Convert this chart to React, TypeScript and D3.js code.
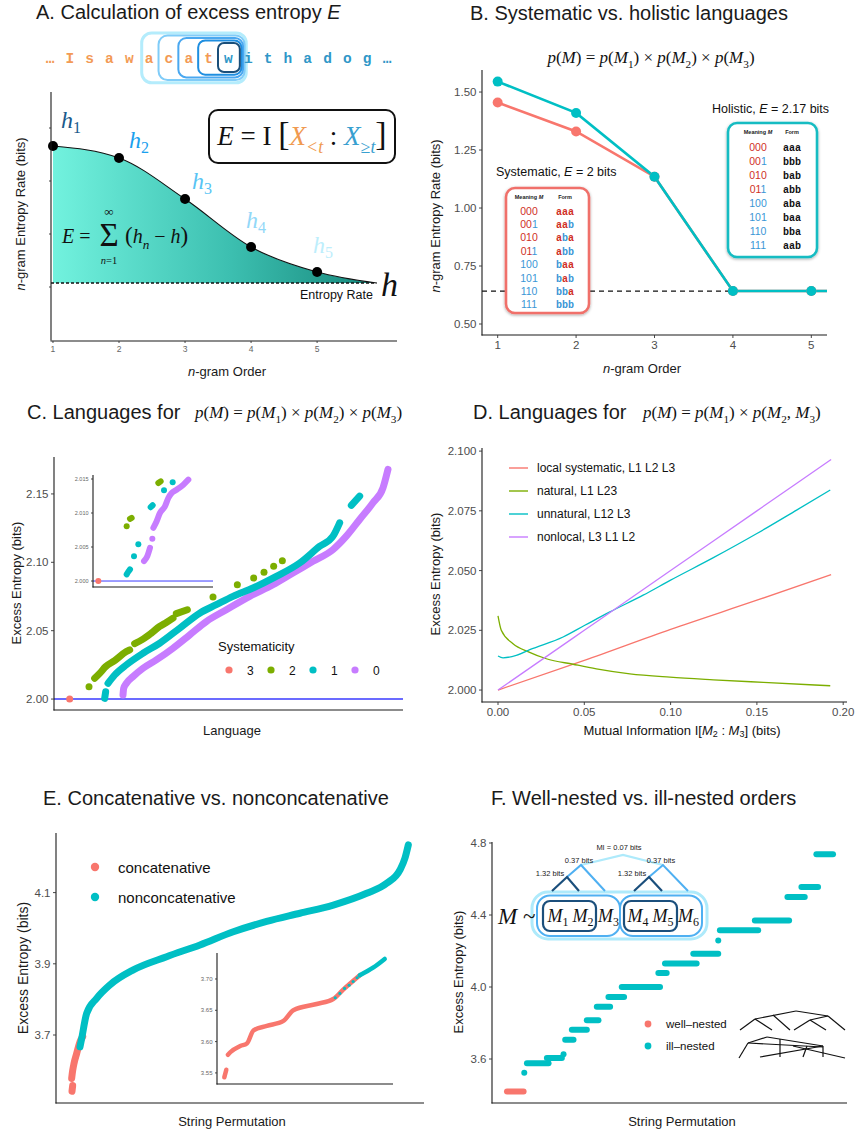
import React from 'react';
import * as d3 from 'd3';

const SANS = '"Liberation Sans", Arial, Helvetica, sans-serif';
const SERIF = '"Liberation Serif", "Times New Roman", serif';
const MONO = '"Liberation Mono", "Courier New", monospace';

const RED = '#f8766d', GREEN = '#7cae00', TEAL = '#00bfc4', PURPLE = '#c77cff';
const GRAY = '#4d4d4d';

// ---------- Panel A ----------
const A_SEQ = ['…', 'I', 's', 'a', 'w', 'a', 'c', 'a', 't', 'w', 'i', 't', 'h', 'a', 'd', 'o', 'g', '…'];
const A_PAST_LEN = 9;
const A_ORDERS = [1, 2, 3, 4, 5];
const A_H = [3.88, 3.64, 2.82, 1.86, 1.36];
const A_CURVE_ORDERS = [1, 2, 3, 4, 5, 5.9];
const A_CURVE_H = [3.88, 3.64, 2.82, 1.86, 1.36, 1.14];
const A_RATE = 1.14;
const A_XTICKS = [1, 2, 3, 4, 5];
const A_YTICKS = [1.06, 2.12, 3.18, 4.24];
const A_HCOLORS = ['#1a5a8c', '#1aa0ee', '#58c4f4', '#92d8f8', '#bdeefc'];
const A_BOXCOLORS = ['#1a4f7a', '#1e8ee0', '#4aa8f0', '#80ccf8', '#b4ecfc'];

// ---------- Panel B ----------
const B_ORDERS = [1, 2, 3, 4, 5, 6];
const B_HOLISTIC = [1.545, 1.41, 1.135, 0.642, 0.642, 0.642];
const B_SYSTEMATIC = [1.455, 1.33, 1.135, 0.642, 0.642, 0.642];
const B_RATE = 0.642;
const B_XTICKS = [1, 2, 3, 4, 5];
const B_YTICKS = [0.5, 0.75, 1.0, 1.25, 1.5];
const B_MEANINGS = ['000', '001', '010', '011', '100', '101', '110', '111'];
const B_SYS_FORMS = ['aaa', 'aab', 'aba', 'abb', 'baa', 'bab', 'bba', 'bbb'];
const B_HOL_FORMS = ['aaa', 'bbb', 'bab', 'abb', 'aba', 'baa', 'bba', 'aab'];

// ---------- Panel C ----------
type Pt = [number, number];
const C_YTICKS = [2.0, 2.05, 2.1, 2.15];
const C_RED: Pt[][] = [[[47, 2.0]]];
const C_GREEN: Pt[][] = [
  [[105, 2.009]],
  [[122, 2.0152], [137, 2.0188], [155, 2.0237], [182, 2.0281], [217, 2.0347], [227, 2.036]],
  [[242, 2.0405], [267, 2.0438], [292, 2.0482], [317, 2.0531], [337, 2.056], [357, 2.0592]],
  [[367, 2.0625], [400, 2.0653]],
  [[477, 2.0746]], [[550, 2.0836]], [[599, 2.0885]], [[630, 2.0927]], [[659, 2.0971]], [[685, 2.1012]],
];
const C_TEAL: Pt[][] = [
  [[152, 2.0005], [155, 2.0054]],
  [[162, 2.0115], [182, 2.0176], [217, 2.025], [267, 2.0335], [317, 2.0408], [377, 2.0518], [437, 2.0628],
   [487, 2.069], [537, 2.0751], [597, 2.0812], [667, 2.0897], [737, 2.0995], [797, 2.1117], [837, 2.1191], [857, 2.1289]],
  [[892, 2.1416], [917, 2.1484]],
];
const C_PURPLE: Pt[][] = [
  [[207, 2.0029], [209, 2.0078], [217, 2.0115], [237, 2.0164], [267, 2.0225], [307, 2.0286], [357, 2.0372],
   [407, 2.0469], [457, 2.0567], [517, 2.0653], [587, 2.0751], [657, 2.0836], [717, 2.0922], [777, 2.1007],
   [837, 2.1093], [877, 2.1191], [917, 2.1313], [957, 2.1435], [987, 2.1545], [1002, 2.168]],
];
const CI_YTICKS = [2.0, 2.005, 2.01, 2.015];
const CI_RED: Pt[][] = [[[16, 2.0]]];
const CI_TEAL: Pt[][] = [
  [[101, 2.00098], [106, 2.00137], [111, 2.00171]],
  [[123, 2.00366]], [[136, 2.00542]],
  [[173, 2.01085], [179, 2.01114]],
  [[213, 2.01334]], [[239, 2.01451]],
];
const CI_GREEN: Pt[][] = [
  [[101, 2.00806]],
  [[111, 2.00914], [116, 2.00928]],
  [[196, 2.01441], [203, 2.01466]],
];
const CI_PURPLE: Pt[][] = [
  [[153, 2.00293], [163, 2.00366], [171, 2.00489]],
  [[178, 2.0062]],
  [[181, 2.00782], [191, 2.0088], [201, 2.01001], [216, 2.011], [226, 2.01221], [236, 2.01295], [251, 2.01343],
   [271, 2.01417], [286, 2.0149]],
];
const C_LEGEND = [
  { label: '3', color: RED }, { label: '2', color: GREEN }, { label: '1', color: TEAL }, { label: '0', color: PURPLE },
];

// ---------- Panel D ----------
const D_XTICKS = [0, 0.05, 0.1, 0.15, 0.2];
const D_YTICKS = [2.0, 2.025, 2.05, 2.075, 2.1];
const D_MI_LIN = [0, 0.05, 0.1, 0.15, 0.193];
const D_LOCAL = [2.0, 2.0124, 2.0254, 2.0376, 2.0483];
const D_NONLOCAL = [2.0, 2.025, 2.05, 2.075, 2.0965];
const D_MI_NAT = [0, 0.0019, 0.0087, 0.018, 0.028, 0.0435, 0.057, 0.0764, 0.0996, 0.1248, 0.1538, 0.1925];
const D_NAT = [2.031, 2.025, 2.0194, 2.0159, 2.0131, 2.0108, 2.0089, 2.0068, 2.0054, 2.0043, 2.0032, 2.0018];
const D_MI_UNNAT = [0, 0.0029, 0.0106, 0.0184, 0.0377, 0.0503, 0.0648, 0.0841, 0.1, 0.1248, 0.15, 0.173, 0.1925];
const D_UNNAT = [2.01425, 2.0135, 2.0145, 2.0169, 2.0222, 2.0271, 2.0327, 2.0397, 2.046, 2.0554, 2.0655, 2.0753, 2.0837];
const D_SERIES = [
  { label: 'local systematic, L1 L2 L3', color: RED, xs: D_MI_LIN, ys: D_LOCAL },
  { label: 'natural, L1 L23', color: GREEN, xs: D_MI_NAT, ys: D_NAT },
  { label: 'unnatural, L12 L3', color: TEAL, xs: D_MI_UNNAT, ys: D_UNNAT },
  { label: 'nonlocal, L3 L1 L2', color: PURPLE, xs: D_MI_LIN, ys: D_NONLOCAL },
];

// ---------- Panel E ----------
const E_YTICKS = [3.7, 3.9, 4.1];
const E_RED: Pt[][] = [
  [[48, 3.542], [50, 3.558]],
  [[47, 3.578], [50, 3.6], [54, 3.62], [62, 3.648], [72, 3.681], [80, 3.695]],
];
const E_TEAL: Pt[][] = [
  [[72, 3.667], [77, 3.69], [92, 3.761], [122, 3.803], [162, 3.841], [232, 3.883], [332, 3.92], [432, 3.953],
   [532, 3.99], [632, 4.019], [732, 4.042], [832, 4.065], [932, 4.098], [992, 4.126], [1032, 4.164], [1047, 4.197], [1057, 4.234]],
];
const EI_YTICKS = [3.55, 3.6, 3.65, 3.7];
const EI_RED: Pt[][] = [
  [[22, 3.543], [28, 3.555]],
  [[33, 3.579], [40, 3.583], [70, 3.593], [90, 3.597], [110, 3.618], [150, 3.625], [200, 3.633], [230, 3.65],
   [300, 3.66], [350, 3.668], [380, 3.683], [430, 3.706]],
];
const EI_TEAL_MIX: Pt[][] = [[[356, 3.67]], [[370, 3.677]], [[384, 3.685]], [[398, 3.69]], [[410, 3.696]], [[422, 3.702]]];
const EI_TEAL: Pt[][] = [[[430, 3.706], [470, 3.718], [505, 3.732]]];

// ---------- Panel F ----------
const F_YTICKS = [3.6, 4.0, 4.4, 4.8];
const F_RED: [number, number, number][] = [[45, 95, 3.42]];
const F_TEAL: [number, number, number][] = [
  [97, 97, 3.524], [105, 170, 3.576], [165, 210, 3.605], [215, 215, 3.626], [220, 245, 3.707], [240, 285, 3.763],
  [285, 320, 3.815], [315, 355, 3.891], [350, 397, 3.944], [390, 505, 4.0], [500, 525, 4.078], [520, 615, 4.13],
  [605, 680, 4.185], [680, 680, 4.259], [685, 800, 4.315], [790, 893, 4.37], [888, 940, 4.5], [930, 980, 4.556],
  [975, 1025, 4.737],
];
const F_TREE_WELL = [
  [740, 1030, 755, 1019], [755, 1019, 772, 1030], [755, 1019, 796, 1011], [796, 1011, 828, 1016],
  [828, 1016, 845, 1030], [773, 1015, 790, 1030], [794, 1030, 810, 1020], [810, 1020, 826, 1030], [810, 1020, 828, 1016],
];
const F_TREE_ILL = [
  [739, 1058, 748, 1043], [748, 1043, 767, 1037], [767, 1037, 823, 1046], [748, 1043, 823, 1047],
  [760, 1057, 823, 1046], [780, 1039, 780, 1057], [807, 1046, 803, 1057], [823, 1046, 823, 1057], [793, 1046, 845, 1058],
];

// ---------- helpers ----------
type Tok = { t: string; i?: boolean; sub?: string; subI?: boolean; c?: string; size?: number };

function MathText({ x, y, size, toks, anchor = 'start', fill = '#111' }: any) {
  const out: any[] = [];
  let pending = 0;
  toks.forEach((k: Tok, idx: number) => {
    out.push(
      <tspan key={idx + 'a'} dy={pending || undefined} fontStyle={k.i ? 'italic' : 'normal'} fill={k.c || fill}
        fontSize={k.size || size}>{k.t}</tspan>
    );
    pending = 0;
    if (k.sub) {
      out.push(
        <tspan key={idx + 'b'} dy={size * 0.28} fontSize={size * 0.66} fontStyle={k.subI ? 'italic' : 'normal'} fill={k.c || fill}>{k.sub}</tspan>
      );
      pending = -size * 0.28;
    }
  });
  return (
    <text x={x} y={y} fontFamily={SERIF} fontSize={size} textAnchor={anchor} style={{ whiteSpace: 'pre' }} fill={fill}>
      {out}
    </text>
  );
}

function Bands({ data, xs, ys, color, w, smooth = true }: any) {
  const line = d3.line<Pt>().x((d) => xs(d[0])).y((d) => ys(d[1]));
  if (smooth) line.curve(d3.curveMonotoneX);
  return (
    <g>
      {data.map((seg: Pt[], i: number) =>
        seg.length === 1 ? (
          <circle key={i} cx={xs(seg[0][0])} cy={ys(seg[0][1])} r={w / 2} fill={color} />
        ) : (
          <path key={i} d={line(seg) || ''} stroke={color} strokeWidth={w} fill="none" strokeLinecap="round" strokeLinejoin="round" />
        )
      )}
    </g>
  );
}

function LeftAxis({ x, y, ticks, fmt, size = 11.5, tickLen = 3, showLabels = true, color = GRAY }: any) {
  const [r0, r1] = y.range();
  return (
    <g>
      <line x1={x} x2={x} y1={r0 + 0.5} y2={r1} stroke="#1a1a1a" strokeWidth={1.1} />
      {ticks.map((t: number, i: number) => (
        <g key={i}>
          <line x1={x - tickLen} x2={x} y1={y(t)} y2={y(t)} stroke="#333" strokeWidth={0.9} />
          {showLabels && (
            <text x={x - tickLen - 2.5} y={y(t)} dy="0.35em" textAnchor="end" fontFamily={SANS} fontSize={size} fill={color}>
              {fmt(t)}
            </text>
          )}
        </g>
      ))}
    </g>
  );
}

function BottomAxis({ y, x, ticks, fmt, size = 11.5, tickLen = 3, showLabels = true, color = GRAY, ticksOn = true }: any) {
  const [r0, r1] = x.range();
  return (
    <g>
      <line x1={r0 - 0.5} x2={r1} y1={y} y2={y} stroke="#1a1a1a" strokeWidth={1.1} />
      {ticksOn && ticks.map((t: number, i: number) => (
        <g key={i}>
          <line x1={x(t)} x2={x(t)} y1={y} y2={y + tickLen} stroke="#333" strokeWidth={0.9} />
          {showLabels && (
            <text x={x(t)} y={y + tickLen + 2} dy="0.8em" textAnchor="middle" fontFamily={SANS} fontSize={size} fill={color}>
              {fmt(t)}
            </text>
          )}
        </g>
      ))}
    </g>
  );
}

function Title({ x, y, children }: any) {
  return (
    <text x={x} y={y} fontFamily={SANS} fontSize={20} fill="#1a1a1a">{children}</text>
  );
}

function YLabel({ x, y, children, size = 13 }: any) {
  return (
    <text transform={`translate(${x},${y}) rotate(-90)`} textAnchor="middle" fontFamily={SANS} fontSize={size} fill="#1a1a1a">
      {children}
    </text>
  );
}

function XLabel({ x, y, children, size = 13 }: any) {
  return (
    <text x={x} y={y} textAnchor="middle" fontFamily={SANS} fontSize={size} fill="#1a1a1a">{children}</text>
  );
}

const PM_TOKS = (last: Tok[]): Tok[] => [
  { t: 'p', i: true }, { t: '(' }, { t: 'M', i: true }, { t: ') = ' }, { t: 'p', i: true }, { t: '(' },
  { t: 'M', i: true, sub: '1' }, { t: ') × ' }, ...last,
];

// ---------- Panels ----------
function PanelA() {
  const x = d3.scaleLinear().domain([0.97, 6.21]).range([51, 397]);
  const y = d3.scaleLinear().domain([0, 4.96]).range([340, 92]);
  const pts: Pt[] = A_CURVE_ORDERS.map((o, i) => [o, A_CURVE_H[i]]);
  const area = d3.area<Pt>().x((d) => x(d[0])).y0(y(A_RATE)).y1((d) => y(d[1])).curve(d3.curveMonotoneX);
  const line = d3.line<Pt>().x((d) => x(d[0])).y((d) => y(d[1])).curve(d3.curveMonotoneX);
  const sx = d3.scalePoint<number>().domain(A_SEQ.map((_, i) => i)).range([50, 387]);
  const cw = sx.step();
  const wi = A_PAST_LEN;
  return (
    <g>
      <defs>
        <linearGradient id="aGrad" x1="0" x2="1" y1="0" y2="0">
          <stop offset="0" stopColor="#72f2de" />
          <stop offset="0.55" stopColor="#3cbfb0" />
          <stop offset="1" stopColor="#16877b" />
        </linearGradient>
      </defs>
      <Title x={36} y={19}>A. Calculation of excess entropy <tspan fontStyle="italic">E</tspan></Title>
      {A_BOXCOLORS.map((c, k) => {
        const left = sx(wi - k)! - cw / 2 - 0.5 + (k === 4 ? 3 : 0);
        const right = sx(wi)! + cw / 2 + 1.5 + k * 1.6;
        const top = 43 - k * 2.5;
        const bot = 72 + k * 2.7;
        return (
          <rect key={k} x={left} y={top} width={right - left} height={bot - top} rx={6 + k} ry={6 + k}
            fill="none" stroke={c} strokeWidth={k === 4 ? 3 : 2} />
        );
      }).reverse()}
      {A_SEQ.map((ch, i) => (
        <text key={i} x={sx(i)} y={63} textAnchor="middle" fontFamily={MONO} fontWeight="bold" fontSize={14.5}
          fill={i < A_PAST_LEN ? '#f39a55' : '#2f97c8'}>{ch}</text>
      ))}
      <path d={area(pts) || ''} fill="url(#aGrad)" />
      <path d={line(pts) || ''} fill="none" stroke="#111" strokeWidth={1.1} />
      <line x1={51} x2={x(5.9)} y1={y(A_RATE)} y2={y(A_RATE)} stroke="#111" strokeWidth={1.3} strokeDasharray="3,2" />
      {A_ORDERS.map((o, i) => (
        <circle key={i} cx={x(o)} cy={y(A_H[i])} r={5} fill="#000" />
      ))}
      <LeftAxis x={51} y={y} ticks={A_YTICKS} fmt={() => ''} showLabels={false} tickLen={2} />
      <BottomAxis y={341} x={x} ticks={A_XTICKS} fmt={(d: number) => String(d)} size={8.5} tickLen={2} color="#666" />
      {A_ORDERS.map((o, i) => {
        const pos = [[61, 128], [129, 148], [192, 189], [246, 228], [313, 253]][i];
        return (
          <text key={i} x={pos[0]} y={pos[1]} fontFamily={SERIF} fontStyle="italic" fontSize={24} fill={A_HCOLORS[i]}>
            h<tspan fontStyle="normal" fontSize={16} dy={5}>{o}</tspan>
          </text>
        );
      })}
      {/* Sum formula */}
      <MathText x={62} y={243} size={20} toks={[{ t: 'E', i: true }, { t: ' =' }]} />
      <text x={109} y={246} textAnchor="middle" fontFamily={SERIF} fontSize={33} fill="#111">Σ</text>
      <text x={109} y={216} textAnchor="middle" fontFamily={SERIF} fontSize={13} fill="#111">∞</text>
      <text x={109} y={264} textAnchor="middle" fontFamily={SERIF} fontSize={10.5} fill="#111">
        <tspan fontStyle="italic">n</tspan>=1
      </text>
      <MathText x={125} y={243} size={20}
        toks={[{ t: '(', size: 23 }, { t: 'h', i: true, sub: 'n', subI: true }, { t: ' − ' }, { t: 'h', i: true }, { t: ')', size: 23 }]} />
      {/* Formula box */}
      <rect x={209} y={110} width={186} height={53} rx={9} fill="#fff" stroke="#111" strokeWidth={2} />
      <MathText x={302} y={145} size={27} anchor="middle"
        toks={[{ t: 'E', i: true }, { t: ' = I ' }, { t: '[', size: 34 }, { t: 'X', i: true, sub: '<t', subI: true, c: '#f09a50' },
          { t: ' : ' }, { t: 'X', i: true, sub: '≥t', subI: true, c: '#38a0d0' }, { t: ']', size: 34 }]} />
      <text x={373} y={299} textAnchor="end" fontFamily={SANS} fontSize={12.5} fill="#111">Entropy Rate</text>
      <text x={381} y={296} fontFamily={SERIF} fontStyle="italic" fontSize={34} fill="#111">h</text>
      <YLabel x={25} y={214}><tspan fontStyle="italic">n</tspan>-gram Entropy Rate (bits)</YLabel>
      <XLabel x={227} y={376}><tspan fontStyle="italic">n</tspan>-gram Order</XLabel>
    </g>
  );
}

function TableBox({ x0, y0, x1, y1, stroke, headY, rowY0, rowDy, mx, fx, forms, formColor }: any) {
  const red = '#d0301f', blue = '#3a96d6';
  return (
    <g>
      <rect x={x0} y={y0} width={x1 - x0} height={y1 - y0} rx={9} fill="#fff" stroke={stroke} strokeWidth={2.6}
        filter="url(#shadow)" />
      <text x={mx} y={headY} dy="0.35em" textAnchor="middle" fontFamily={SANS} fontWeight="bold" fontSize={5.5} fill="#222">
        Meaning <tspan fontStyle="italic">M</tspan>
      </text>
      <text x={fx} y={headY} dy="0.35em" textAnchor="middle" fontFamily={SANS} fontWeight="bold" fontSize={5.5} fill="#222">Form</text>
      {B_MEANINGS.map((m, i) => {
        const rowColor = m[0] === '0' ? red : blue;
        return (
          <g key={i}>
            <text x={mx} y={rowY0 + i * rowDy} dy="0.35em" textAnchor="middle" fontFamily={SANS} fontSize={10.5}>
              {m.split('').map((ch, j) => (
                <tspan key={j} fill={j === 2 && ch === '1' ? blue : rowColor}>{ch}</tspan>
              ))}
            </text>
            <text x={fx} y={rowY0 + i * rowDy} dy="0.35em" textAnchor="middle" fontFamily={MONO} fontWeight="bold" fontSize={10}>
              {forms[i].split('').map((ch: string, j: number) => (
                <tspan key={j} fill={formColor ? (ch === 'a' ? red : blue) : '#111'}>{ch}</tspan>
              ))}
            </text>
          </g>
        );
      })}
    </g>
  );
}

function PanelB() {
  const x = d3.scaleLinear().domain([0.8, 5.2]).range([482, 827]);
  const y = d3.scaleLinear().domain([0.4526, 1.595]).range([335, 70]);
  const line = d3.line<number>().x((_, i) => x(B_ORDERS[i])).y((d) => y(d));
  return (
    <g>
      <defs>
        <clipPath id="bClip"><rect x={482} y={60} width={345} height={275} /></clipPath>
        <filter id="shadow" x="-20%" y="-20%" width="140%" height="140%">
          <feDropShadow dx="0" dy="1" stdDeviation="1.8" floodColor="#000" floodOpacity="0.35" />
        </filter>
      </defs>
      <Title x={470} y={20}>B. Systematic vs. holistic languages</Title>
      <MathText x={651} y={63} size={17} anchor="middle"
        toks={PM_TOKS([{ t: 'p', i: true }, { t: '(' }, { t: 'M', i: true, sub: '2' }, { t: ') × ' }, { t: 'p', i: true }, { t: '(' }, { t: 'M', i: true, sub: '3' }, { t: ')' }])} />
      <line x1={482} x2={827} y1={y(B_RATE)} y2={y(B_RATE)} stroke="#111" strokeWidth={1.2} strokeDasharray="5,4" />
      <g clipPath="url(#bClip)">
        <path d={line(B_SYSTEMATIC) || ''} fill="none" stroke={RED} strokeWidth={2.6} />
        <path d={line(B_HOLISTIC) || ''} fill="none" stroke={TEAL} strokeWidth={2.6} />
        {B_ORDERS.slice(0, 5).map((o, i) => (
          <circle key={'s' + i} cx={x(o)} cy={y(B_SYSTEMATIC[i])} r={5} fill={RED} />
        ))}
        {B_ORDERS.slice(0, 5).map((o, i) => (
          <circle key={'h' + i} cx={x(o)} cy={y(B_HOLISTIC[i])} r={5} fill={TEAL} />
        ))}
      </g>
      <LeftAxis x={482} y={y} ticks={B_YTICKS} fmt={(d: number) => d.toFixed(2)} />
      <BottomAxis y={335} x={x} ticks={B_XTICKS} fmt={(d: number) => String(d)} />
      <text x={496} y={176} fontFamily={SANS} fontSize={12.5} fill="#111">
        Systematic, <tspan fontStyle="italic">E</tspan> = 2 bits
      </text>
      <text x={712} y={113} fontFamily={SANS} fontSize={12.5} fill="#111">
        Holistic, <tspan fontStyle="italic">E</tspan> = 2.17 bits
      </text>
      <TableBox x0={506} y0={188} x1={589} y1={313} stroke="#f0706a" headY={197} rowY0={211} rowDy={13.4}
        mx={529} fx={565} forms={B_SYS_FORMS} formColor={true} />
      <TableBox x0={728} y0={123} x1={817} y1={257} stroke="#17bcc2" headY={132} rowY0={147} rowDy={14}
        mx={758} fx={792} forms={B_HOL_FORMS} formColor={false} />
      <YLabel x={440} y={216}><tspan fontStyle="italic">n</tspan>-gram Entropy Rate (bits)</YLabel>
      <XLabel x={642} y={373}><tspan fontStyle="italic">n</tspan>-gram Order</XLabel>
    </g>
  );
}

function PanelC() {
  const x = d3.scaleLinear().domain([0, 1047]).range([54, 403]);
  const y = d3.scaleLinear().domain([1.992, 2.177]).range([710, 457]);
  const xi = d3.scaleLinear().domain([0, 360]).range([93, 213]);
  const yi = d3.scaleLinear().domain([1.99912, 2.01559]).range([587, 475]);
  return (
    <g>
      <Title x={27} y={419}>C. Languages for</Title>
      <MathText x={195} y={418} size={17}
        toks={PM_TOKS([{ t: 'p', i: true }, { t: '(' }, { t: 'M', i: true, sub: '2' }, { t: ') × ' }, { t: 'p', i: true }, { t: '(' }, { t: 'M', i: true, sub: '3' }, { t: ')' }])} />
      <line x1={54} x2={403} y1={y(2.0)} y2={y(2.0)} stroke="#3a3aff" strokeWidth={1.4} />
      <Bands data={C_PURPLE} xs={x} ys={y} color={PURPLE} w={7} />
      <Bands data={C_TEAL} xs={x} ys={y} color={TEAL} w={7} />
      <Bands data={C_GREEN} xs={x} ys={y} color={GREEN} w={7} />
      <Bands data={C_RED} xs={x} ys={y} color={RED} w={7} />
      <LeftAxis x={54} y={y} ticks={C_YTICKS} fmt={(d: number) => d.toFixed(2)} />
      <BottomAxis y={710} x={x} ticks={[]} fmt={() => ''} ticksOn={false} />
      <line x1={93} x2={213} y1={yi(2.0)} y2={yi(2.0)} stroke="#3a3aff" strokeWidth={1} />
      <Bands data={CI_PURPLE} xs={xi} ys={yi} color={PURPLE} w={6} />
      <Bands data={CI_TEAL} xs={xi} ys={yi} color={TEAL} w={6} />
      <Bands data={CI_GREEN} xs={xi} ys={yi} color={GREEN} w={6} />
      <Bands data={CI_RED} xs={xi} ys={yi} color={RED} w={6} />
      <LeftAxis x={93} y={yi} ticks={CI_YTICKS} fmt={(d: number) => d.toFixed(3)} size={5.5} tickLen={2} color="#666" />
      <BottomAxis y={587} x={xi} ticks={[]} fmt={() => ''} ticksOn={false} />
      <text x={218} y={651} fontFamily={SANS} fontSize={13} fill="#111">Systematicity</text>
      {C_LEGEND.map((d, i) => (
        <g key={i}>
          <circle cx={229 + i * 42} cy={670} r={3.6} fill={d.color} />
          <text x={247 + i * 42} y={674.5} fontFamily={SANS} fontSize={12} fill="#111">{d.label}</text>
        </g>
      ))}
      <YLabel x={21} y={583}>Excess Entropy (bits)</YLabel>
      <XLabel x={232} y={735}>Language</XLabel>
    </g>
  );
}

function PanelD() {
  const x = d3.scaleLinear().domain([-0.00927, 0.2022]).range([482, 847]);
  const y = d3.scaleLinear().domain([1.995, 2.1013]).range([702, 448]);
  return (
    <g>
      <Title x={473} y={419}>D. Languages for</Title>
      <MathText x={643} y={418} size={17}
        toks={PM_TOKS([{ t: 'p', i: true }, { t: '(' }, { t: 'M', i: true, sub: '2' }, { t: ', ' }, { t: 'M', i: true, sub: '3' }, { t: ')' }])} />
      {D_SERIES.map((s, k) => {
        const line = d3.line<number>().x((_, i) => x(s.xs[i])).y((d) => y(d)).curve(d3.curveMonotoneX);
        return <path key={k} d={line(s.ys) || ''} fill="none" stroke={s.color} strokeWidth={1.3} />;
      })}
      <LeftAxis x={482} y={y} ticks={D_YTICKS} fmt={(d: number) => d.toFixed(3)} />
      <BottomAxis y={702} x={x} ticks={D_XTICKS} fmt={(d: number) => d.toFixed(2)} />
      {D_SERIES.map((s, k) => (
        <g key={k}>
          <line x1={509} x2={528} y1={468 + k * 23} y2={468 + k * 23} stroke={s.color} strokeWidth={1.4} />
          <text x={537} y={468 + k * 23} dy="0.35em" fontFamily={SANS} fontSize={12} fill="#111">{s.label}</text>
        </g>
      ))}
      <YLabel x={440} y={574}>Excess Entropy (bits)</YLabel>
      <text x={682} y={735} textAnchor="middle" fontFamily={SANS} fontSize={13} fill="#111">
        Mutual Information I[<tspan fontStyle="italic">M</tspan><tspan fontSize={9} dy={2}>2</tspan><tspan dy={-2}> : </tspan>
        <tspan fontStyle="italic">M</tspan><tspan fontSize={9} dy={2}>3</tspan><tspan dy={-2}>] (bits)</tspan>
      </text>
    </g>
  );
}

function PanelE() {
  const x = d3.scaleLinear().domain([0, 1104]).range([56, 424]);
  const y = d3.scaleLinear().domain([3.509, 4.2674]).range([1103, 833]);
  const xi = d3.scaleLinear().domain([0, 530]).range([217, 393]);
  const yi = d3.scaleLinear().domain([3.5323, 3.7415]).range([1084, 953]);
  return (
    <g>
      <Title x={43} y={805}>E. Concatenative vs. nonconcatenative</Title>
      <Bands data={E_RED} xs={x} ys={y} color={RED} w={7} />
      <Bands data={E_TEAL} xs={x} ys={y} color={TEAL} w={7} />
      <LeftAxis x={56} y={y} ticks={E_YTICKS} fmt={(d: number) => d.toFixed(1)} />
      <BottomAxis y={1103} x={x} ticks={[]} fmt={() => ''} ticksOn={false} />
      <Bands data={EI_RED} xs={xi} ys={yi} color={RED} w={4.5} />
      <Bands data={EI_TEAL_MIX} xs={xi} ys={yi} color={TEAL} w={3.2} />
      <Bands data={EI_TEAL} xs={xi} ys={yi} color={TEAL} w={4.5} />
      <LeftAxis x={217} y={yi} ticks={EI_YTICKS} fmt={(d: number) => d.toFixed(2)} size={6} tickLen={2} color="#666" />
      <BottomAxis y={1084} x={xi} ticks={[]} fmt={() => ''} ticksOn={false} />
      <circle cx={95} cy={867} r={4.2} fill={RED} />
      <text x={118} y={872.5} fontFamily={SANS} fontSize={15} fill="#111">concatenative</text>
      <circle cx={95} cy={897} r={4.2} fill={TEAL} />
      <text x={118} y={902.5} fontFamily={SANS} fontSize={15} fill="#111">nonconcatenative</text>
      <YLabel x={28} y={968} size={14}>Excess Entropy (bits)</YLabel>
      <XLabel x={232} y={1126}>String Permutation</XLabel>
    </g>
  );
}

function PanelF() {
  const x = d3.scaleLinear().domain([0, 1067]).range([492, 847]);
  const y = d3.scaleLinear().domain([3.3556, 4.8056]).range([1103, 842]);
  const toSegs = (arr: [number, number, number][]): Pt[][] =>
    arr.map((s) => (s[0] === s[1] ? [[s[0], s[2]] as Pt] : [[s[0], s[2]] as Pt, [s[1], s[2]] as Pt]));
  const dark = '#1b4f7c', mid = '#4fb0f2', light = '#aeeafb';
  return (
    <g>
      <Title x={491} y={805}>F. Well-nested vs. ill-nested orders</Title>
      <Bands data={toSegs(F_RED)} xs={x} ys={y} color={RED} w={6} smooth={false} />
      <Bands data={toSegs(F_TEAL)} xs={x} ys={y} color={TEAL} w={6} smooth={false} />
      <LeftAxis x={492} y={y} ticks={F_YTICKS} fmt={(d: number) => d.toFixed(1)} />
      <BottomAxis y={1103} x={x} ticks={[]} fmt={() => ''} ticksOn={false} />
      <rect x={532} y={892} width={175} height={47} rx={16} fill="none" stroke={light} strokeWidth={3} />
      <rect x={537} y={895.5} width={83} height={40.5} rx={13} fill="none" stroke={mid} strokeWidth={2} />
      <rect x={620} y={895.5} width={82} height={40.5} rx={13} fill="none" stroke={mid} strokeWidth={2} />
      <rect x={543} y={901} width={53} height={30} rx={7} fill="none" stroke={dark} strokeWidth={2.2} />
      <rect x={624} y={901} width={53} height={30} rx={7} fill="none" stroke={dark} strokeWidth={2.2} />
      <polyline points="581,865 623,855 663,865" fill="none" stroke={light} strokeWidth={2.2} />
      <polyline points="567,877 581,865 605,891" fill="none" stroke={mid} strokeWidth={2} />
      <polyline points="649,877 663,865 688,891" fill="none" stroke={mid} strokeWidth={2} />
      <polyline points="552,891 567,877 579,891" fill="none" stroke={dark} strokeWidth={2.2} />
      <polyline points="634,891 649,877 662,891" fill="none" stroke={dark} strokeWidth={2.2} />
      <text x={619} y={850} textAnchor="middle" fontFamily={SANS} fontSize={7.5} fill="#222">MI = 0.07 bits</text>
      <text x={579} y={863} textAnchor="middle" fontFamily={SANS} fontSize={7.5} fill="#222">0.37 bits</text>
      <text x={661} y={863} textAnchor="middle" fontFamily={SANS} fontSize={7.5} fill="#222">0.37 bits</text>
      <text x={550} y={876} textAnchor="middle" fontFamily={SANS} fontSize={7.5} fill="#222">1.32 bits</text>
      <text x={632} y={876} textAnchor="middle" fontFamily={SANS} fontSize={7.5} fill="#222">1.32 bits</text>
      <text x={498} y={924} fontFamily={SERIF} fontSize={23} fill="#111"><tspan fontStyle="italic">M</tspan> ~</text>
      {['1', '2', '3', '4', '5', '6'].map((s, i) => (
        <text key={i} x={[547.5, 572.5, 598, 627.5, 652.5, 678][i]} y={922} fontFamily={SERIF} fontStyle="italic" fontSize={18} fill="#111">
          M<tspan fontStyle="normal" fontSize={12} dy={4}>{s}</tspan>
        </text>
      ))}
      <circle cx={648} cy={1024} r={3.4} fill={RED} />
      <text x={666} y={1024} dy="0.35em" fontFamily={SANS} fontSize={11.5} fill="#111">well–nested</text>
      <circle cx={648} cy={1046} r={3.4} fill={TEAL} />
      <text x={666} y={1046} dy="0.35em" fontFamily={SANS} fontSize={11.5} fill="#111">ill–nested</text>
      {[...F_TREE_WELL, ...F_TREE_ILL].map((l, i) => (
        <line key={i} x1={l[0]} y1={l[1]} x2={l[2]} y2={l[3]} stroke="#111" strokeWidth={1.2} />
      ))}
      <YLabel x={463} y={972}>Excess Entropy (bits)</YLabel>
      <XLabel x={682} y={1126}>String Permutation</XLabel>
    </g>
  );
}

export default function App() {
  return (
    <svg width={855} height={1133} style={{ position: 'absolute', left: 0, top: 0, background: '#fff' }}
      xmlns="http://www.w3.org/2000/svg">
      <rect width={855} height={1133} fill="#fff" />
      <PanelA />
      <PanelB />
      <PanelC />
      <PanelD />
      <PanelE />
      <PanelF />
    </svg>
  );
}
